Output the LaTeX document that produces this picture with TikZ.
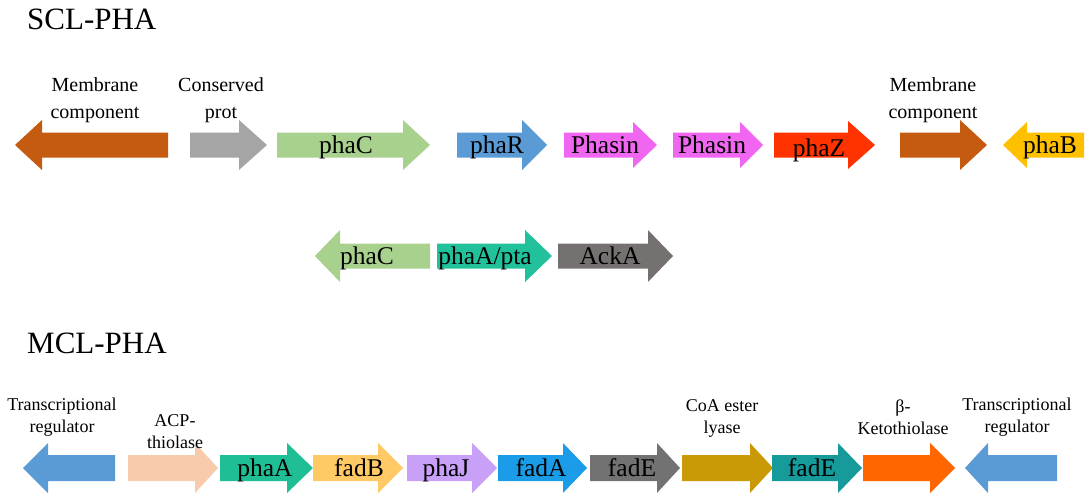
\documentclass[tikz,border=0pt]{standalone}
\usepackage{fontspec}
\setmainfont{Liberation Serif}
\begin{document}
\begin{tikzpicture}[x=1pt,y=-1pt,
  genetext/.style={font=\fontsize{25.5}{28}\selectfont, anchor=base, inner sep=0pt},
  lab/.style={font=\fontsize{20}{27}\selectfont, align=center, inner sep=0pt},
  smalllab/.style={font=\fontsize{18}{22}\selectfont, align=center, inner sep=0pt},
  title/.style={font=\fontsize{31}{34}\selectfont, anchor=base west, inner sep=0pt}]
\useasboundingbox (0,0) rectangle (1085,495);

% gene arrow: name, tail x, head-base x, tip x, centre y, body half, head half, colour
\newcommand\genearrow[8]{%
  \fill[#8] (#2,#5-#6) -- (#3,#5-#6) -- (#3,#5-#7) -- (#4,#5)
    -- (#3,#5+#7) -- (#3,#5+#6) -- (#2,#5+#6) -- cycle;
  \coordinate (#1) at ({(#2+#4)/2},#5);}

\definecolor{membrane}{HTML}{C55A11}
\definecolor{consgray}{HTML}{A5A5A5}
\definecolor{phacgreen}{HTML}{A9D18E}
\definecolor{pharblue}{HTML}{5B9BD5}
\definecolor{phasin}{HTML}{F066F0}
\definecolor{phazred}{HTML}{FF3300}
\definecolor{phabyellow}{HTML}{FFC000}
\definecolor{ptateal}{HTML}{21C29B}
\definecolor{ackgray}{HTML}{767171}
\definecolor{acppeach}{HTML}{F8CBAD}
\definecolor{phaagreen}{HTML}{20BE94}
\definecolor{fadborange}{HTML}{FFC966}
\definecolor{phajlav}{HTML}{C9A0F7}
\definecolor{fadablue}{HTML}{1A9CE8}
\definecolor{fadegray}{HTML}{727272}
\definecolor{coagold}{HTML}{C99A06}
\definecolor{fadeteal}{HTML}{169A9A}
\definecolor{ketoorange}{HTML}{FF6600}

% ---------- SCL-PHA ----------
\node[title] (scl) at (27,30) {SCL-PHA};

\genearrow{mem1}{168}{42}{15}{145}{12.5}{25}{membrane}
\genearrow{cons}{190}{239}{267}{145}{12.5}{25}{consgray}
\genearrow{phac1}{277}{403}{430}{145}{12.5}{25}{phacgreen}
\genearrow{phar}{457}{522}{547}{145}{12.5}{25}{pharblue}
\genearrow{phas1}{564}{633}{657}{145}{12.5}{23}{phasin}
\genearrow{phas2}{673}{740}{763}{145}{12.5}{23}{phasin}
\genearrow{phaz}{774}{848}{875}{145}{12.5}{24}{phazred}
\genearrow{mem2}{900}{960}{987}{145}{12.5}{25}{membrane}
\genearrow{phab}{1084}{1027}{1003}{145}{12.5}{23}{phabyellow}

\node[lab] (lmem1) at (95,100) {Membrane\\component};
\node[lab] (lcons) at (221,100) {Conserved\\prot};
\node[lab] (lmem2) at (933,100) {Membrane\\component};

\node[genetext] (tphac1) at (346,153) {phaC};
\node[genetext] (tphar) at (497,153) {phaR};
\node[genetext] (tphas1) at (605,153) {Phasin};
\node[genetext] (tphas2) at (712,153) {Phasin};
\node[genetext] (tphaz) at (819,156) {phaZ};
\node[genetext] (tphab) at (1050,153) {phaB};

% second cluster
\genearrow{phac2}{430}{340}{315}{256}{12.5}{26}{phacgreen}
\genearrow{pta}{437}{525}{552}{256}{12.5}{26}{ptateal}
\genearrow{acka}{558}{648}{673}{256}{12.5}{26}{ackgray}

\node[genetext] (tphac2) at (367,264) {phaC};
\node[genetext] (tpta) at (485,264) {phaA/pta};
\node[genetext] (tacka) at (610,264) {AckA};

% ---------- MCL-PHA ----------
\node[title] (mcl) at (27,353) {MCL-PHA};

\genearrow{treg1}{115}{48}{23}{468}{13}{25}{pharblue}
\genearrow{acp}{128}{195}{218}{468}{13}{25}{acppeach}
\genearrow{phaa}{220}{287}{313}{468}{13}{25}{phaagreen}
\genearrow{fadb}{313}{378}{403}{468}{13}{25}{fadborange}
\genearrow{phaj}{407}{472}{497}{468}{13}{25}{phajlav}
\genearrow{fada}{498}{563}{587}{468}{13}{25}{fadablue}
\genearrow{fade1}{590}{657}{680}{468}{13}{25}{fadegray}
\genearrow{coa}{682}{750}{773}{468}{13}{25}{coagold}
\genearrow{fade2}{772}{838}{862}{468}{13}{25}{fadeteal}
\genearrow{keto}{863}{930}{955}{468}{13}{25}{ketoorange}
\genearrow{treg2}{1057}{988}{965}{468}{13}{25}{pharblue}

\node[smalllab] (ltreg1) at (62,417) {Transcriptional\\regulator};
\node[smalllab] (lacp) at (175,432) {ACP-\\thiolase};
\node[smalllab] (lcoa) at (722,418) {CoA ester\\lyase};
\node[smalllab] (lketo) at (903,417) {β-\\Ketothiolase};
\node[smalllab] (ltreg2) at (1017,417) {Transcriptional\\regulator};

\node[genetext] (tphaa) at (265,476) {phaA};
\node[genetext] (tfadb) at (359,476) {fadB};
\node[genetext] (tphaj) at (446,476) {phaJ};
\node[genetext] (tfada) at (541,476) {fadA};
\node[genetext] (tfade1) at (632,476) {fadE};
\node[genetext] (tfade2) at (812,476) {fadE};
\end{tikzpicture}
\end{document}
